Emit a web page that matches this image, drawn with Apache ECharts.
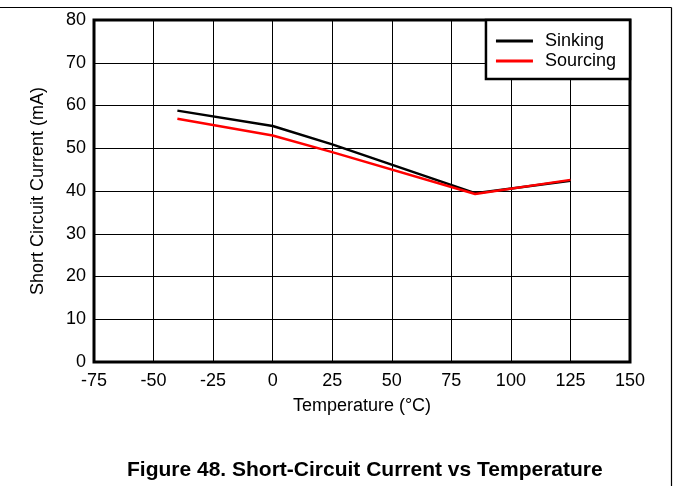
<!DOCTYPE html>
<html>
<head>
<meta charset="utf-8">
<script src="https://cdn.jsdelivr.net/npm/echarts@6/dist/echarts.min.js"></script>
<style>
  html, body { margin: 0; padding: 0; background: #fff; }
  #chart { width: 677px; height: 486px; }
</style>
</head>
<body>
<div id="chart"></div>
<script>
// Short-circuit current (mA) versus ambient temperature (°C)
const temperatures = [-40, 0, 25, 85, 125];
const sinking = [58.8, 55.2, 50.9, 39.5, 42.4];
const sourcing = [56.9, 53.0, 49.1, 39.3, 42.6];
const seriesNames = ['Sinking', 'Sourcing'];
const xTitle = 'Temperature (\u00B0C)';
const yTitle = 'Short Circuit Current (mA)';
const figureTitle = 'Figure 48. Short-Circuit Current vs Temperature';

const FONT = '"Liberation Sans", Arial, sans-serif';
const pairs = (xs, ys) => xs.map((x, i) => [x, ys[i]]);

const chart = echarts.init(document.getElementById('chart'), null, { renderer: 'canvas' });

chart.setOption({
  animation: false,
  backgroundColor: '#ffffff',
  grid: {
    left: 94, right: 47, top: 20, bottom: 124,
    show: true,
    borderColor: '#000',
    borderWidth: 3,
    backgroundColor: 'transparent'
  },
  title: {
    text: figureTitle,
    left: 122,
    top: 455,
    textStyle: { fontFamily: FONT, fontSize: 21, fontWeight: 'bold', color: '#000' }
  },
  legend: {
    data: seriesNames,
    orient: 'vertical',
    right: 47,
    top: 20,
    padding: [12, 14, 9, 10],
    itemGap: 2,
    itemWidth: 37,
    itemHeight: 3,
    icon: 'rect',
    backgroundColor: '#fff',
    borderColor: '#000',
    borderWidth: 2.5,
    borderRadius: 0,
    textStyle: { fontFamily: FONT, fontSize: 18, color: '#000', padding: [0, 0, 0, 7] }
  },
  xAxis: {
    type: 'value',
    min: -75, max: 150, interval: 25,
    name: xTitle,
    nameLocation: 'middle',
    nameGap: 35,
    nameTextStyle: { fontFamily: FONT, fontSize: 18, color: '#000' },
    axisLine: { show: false },
    axisTick: { show: false },
    axisLabel: { fontFamily: FONT, fontSize: 18, color: '#000', margin: 10 },
    splitLine: { show: true, lineStyle: { color: '#000', width: 1 } }
  },
  yAxis: {
    type: 'value',
    min: 0, max: 80, interval: 10,
    name: yTitle,
    nameLocation: 'middle',
    nameGap: 47,
    nameTextStyle: { fontFamily: FONT, fontSize: 18, color: '#000' },
    axisLine: { show: false },
    axisTick: { show: false },
    axisLabel: { fontFamily: FONT, fontSize: 18, color: '#000', margin: 8 },
    splitLine: { show: true, lineStyle: { color: '#000', width: 1 } }
  },
  graphic: [
    { type: 'line', shape: { x1: 0, y1: 7.5, x2: 671.5, y2: 7.5 }, style: { stroke: '#000', lineWidth: 1.2 } },
    { type: 'line', shape: { x1: 671.5, y1: 7.5, x2: 671.5, y2: 486 }, style: { stroke: '#000', lineWidth: 1.2 } }
  ],
  series: [
    {
      name: seriesNames[0], type: 'line', data: pairs(temperatures, sinking),
      showSymbol: false, color: '#000', lineStyle: { color: '#000', width: 2.5 }, z: 3
    },
    {
      name: seriesNames[1], type: 'line', data: pairs(temperatures, sourcing),
      showSymbol: false, color: '#ff0000', lineStyle: { color: '#ff0000', width: 2.5 }, z: 4
    }
  ]
});
</script>
</body>
</html>
